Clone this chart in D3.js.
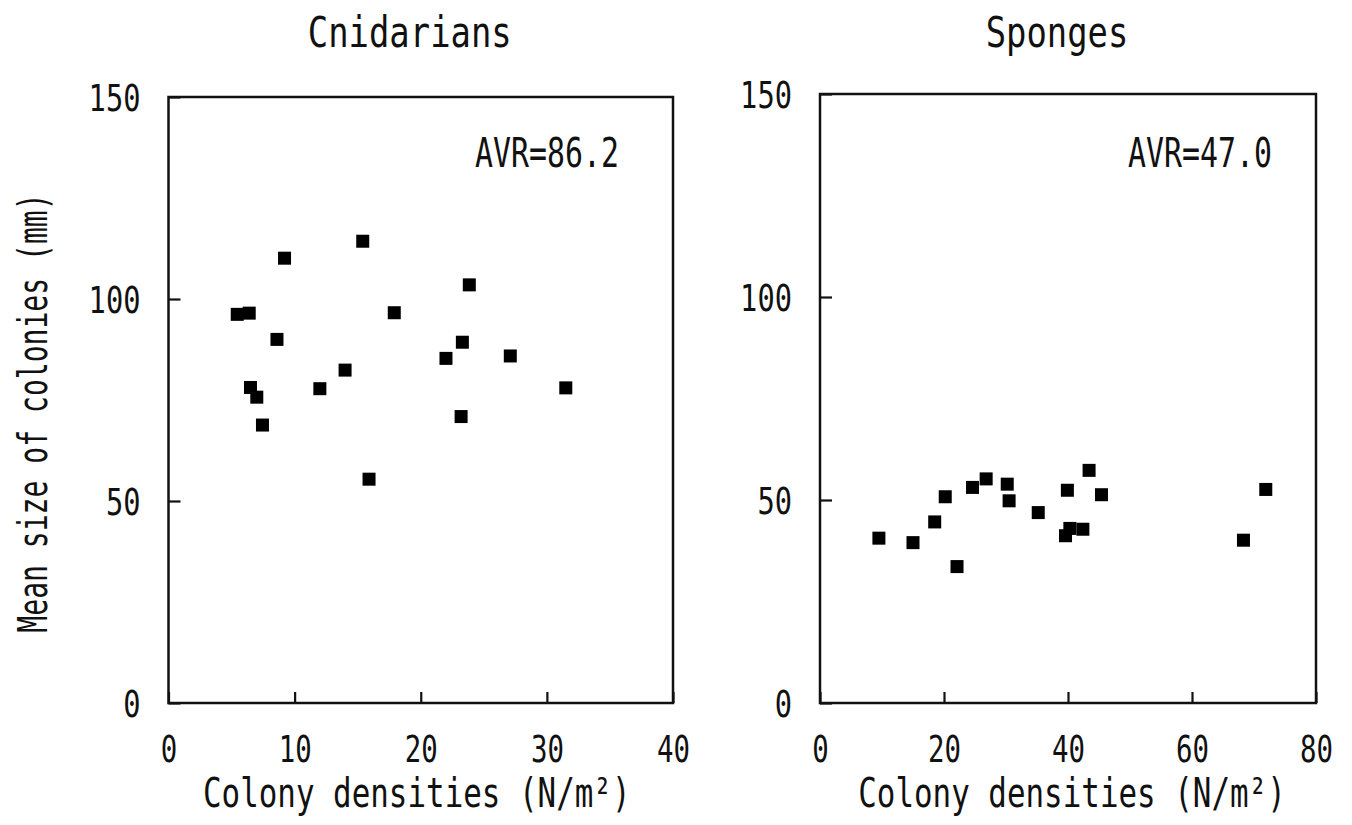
<!DOCTYPE html>
<html>
<head>
<meta charset="utf-8">
<script src="https://cdn.jsdelivr.net/npm/d3@7"></script>
<style>
  body { margin: 0; background: #fff; }
  text { font-family: "DejaVu Sans Mono", monospace; fill: #111; }
</style>
</head>
<body>
<div id="chart"></div>
<script>
// values
var cnidDensity = [15.4, 9.2, 23.85, 5.45, 6.4, 17.9, 8.6, 23.3, 22.0, 27.1, 14.0, 6.5, 12.0, 31.5, 7.0, 7.45, 23.2, 15.9];
var cnidSize    = [114.3, 110.1, 103.5, 96.2, 96.5, 96.6, 90.0, 89.3, 85.3, 85.9, 82.4, 78.1, 77.8, 78.0, 75.7, 68.8, 70.9, 55.4];

var spongeDensity = [9.5, 15.0, 18.5, 20.2, 22.1, 24.6, 26.8, 30.2, 30.5, 35.2, 39.9, 39.6, 40.3, 42.4, 43.4, 45.4, 68.3, 71.9];
var spongeSize    = [40.6, 39.5, 44.6, 50.8, 33.6, 53.1, 55.2, 53.9, 49.8, 46.9, 52.4, 41.2, 43.0, 42.8, 57.3, 51.3, 40.1, 52.6];

var cnidXTicks = [0, 10, 20, 30, 40];
var spongeXTicks = [0, 20, 40, 60, 80];
var yTicks = [0, 50, 100, 150];

var titles = ["Cnidarians", "Sponges"];
var avrLabels = ["AVR=86.2", "AVR=47.0"];
var xLabel = "Colony densities (N/m\u00b2)";
var yLabel = "Mean size of colonies (mm)";

var width = 1352, height = 825;

var svg = d3.select("#chart")
  .append("svg")
  .attr("width", width)
  .attr("height", height)
  .style("background-color", "#fff");

var panels = [
  { x0: 168.5, x1: 673, y0: 97, y1: 703, xMax: 40, xTicks: cnidXTicks, xs: cnidDensity, ys: cnidSize, avrX: 475, labelShift: -4 },
  { x0: 820, x1: 1316, y0: 94, y1: 703, xMax: 80, xTicks: spongeXTicks, xs: spongeDensity, ys: spongeSize, avrX: 1128, labelShift: 4 }
];

// the original font is a narrow gothic; squash the mono font horizontally
function squeeze(sel, fs, pitch, extra) {
  var sx = pitch / (0.6021 * fs);
  sel.style("font-size", fs + "px").each(function() {
    var t = d3.select(this);
    var x = +t.attr("x") || 0, y = +t.attr("y") || 0;
    t.attr("x", 0).attr("y", 0)
     .attr("transform", "translate(" + x + "," + y + ")" + (extra || "") + " scale(" + sx + ",1)");
  });
}

panels.forEach(function(p, i) {
  var xScale = d3.scaleLinear().domain([0, p.xMax]).range([p.x0, p.x1]);
  var yScale = d3.scaleLinear().domain([0, 150]).range([p.y1, p.y0]);

  var g = svg.append("g").attr("class", "panel-" + i);

  // x axis, ticks pointing inward
  var xAxis = g.append("g")
    .attr("class", "axis x-axis")
    .attr("transform", "translate(0," + p.y1 + ")")
    .call(d3.axisBottom(xScale).tickValues(p.xTicks).tickSizeInner(-11).tickSizeOuter(0));
  xAxis.select(".domain").remove();
  xAxis.selectAll(".tick line").attr("stroke", "#111").attr("stroke-width", 2.2);
  xAxis.selectAll(".tick text")
    .attr("y", 59)
    .attr("dy", null)
    .call(squeeze, 37, 16.5);
  xAxis.attr("font-family", null).attr("font-size", null);

  // y axis
  var yAxis = g.append("g")
    .attr("class", "axis y-axis")
    .attr("transform", "translate(" + p.x0 + ",0)")
    .call(d3.axisLeft(yScale).tickValues(yTicks).tickSizeInner(-12).tickSizeOuter(0).tickPadding(28));
  yAxis.select(".domain").remove();
  yAxis.selectAll(".tick line").attr("stroke", "#111").attr("stroke-width", 2.2);
  yAxis.selectAll(".tick text")
    .attr("dy", "0.36em")
    .call(squeeze, 38, 17.3);
  yAxis.attr("font-family", null).attr("font-size", null);

  // frame
  g.append("rect")
    .attr("x", p.x0)
    .attr("y", p.y0)
    .attr("width", p.x1 - p.x0)
    .attr("height", p.y1 - p.y0)
    .attr("fill", "none")
    .attr("stroke", "#111")
    .attr("stroke-width", 2.5);

  // points
  var size = 13;
  g.selectAll("rect.pt")
    .data(p.xs.map(function(d, k) { return [d, p.ys[k]]; }))
    .enter()
    .append("rect")
    .attr("class", "pt")
    .attr("x", function(d) { return xScale(d[0]) - size / 2; })
    .attr("y", function(d) { return yScale(d[1]) - size / 2; })
    .attr("width", size)
    .attr("height", size)
    .attr("fill", "#000");

  var cx = (p.x0 + p.x1) / 2;

  // title
  g.append("text")
    .text(titles[i])
    .attr("x", cx - 11)
    .attr("y", 47)
    .attr("text-anchor", "middle")
    .call(squeeze, 42, 20.4);

  // average annotation
  g.append("text")
    .text(avrLabels[i])
    .attr("x", p.avrX)
    .attr("y", 167)
    .call(squeeze, 41, 18);

  // x axis label
  g.append("text")
    .text(xLabel)
    .attr("x", cx + p.labelShift)
    .attr("y", 807)
    .attr("text-anchor", "middle")
    .call(squeeze, 40, 18.6);
});

// y axis label, left panel only
svg.append("text")
  .text(yLabel)
  .attr("x", 47)
  .attr("y", 413)
  .attr("text-anchor", "middle")
  .call(squeeze, 40, 16.9, " rotate(-90)");
</script>
</body>
</html>
